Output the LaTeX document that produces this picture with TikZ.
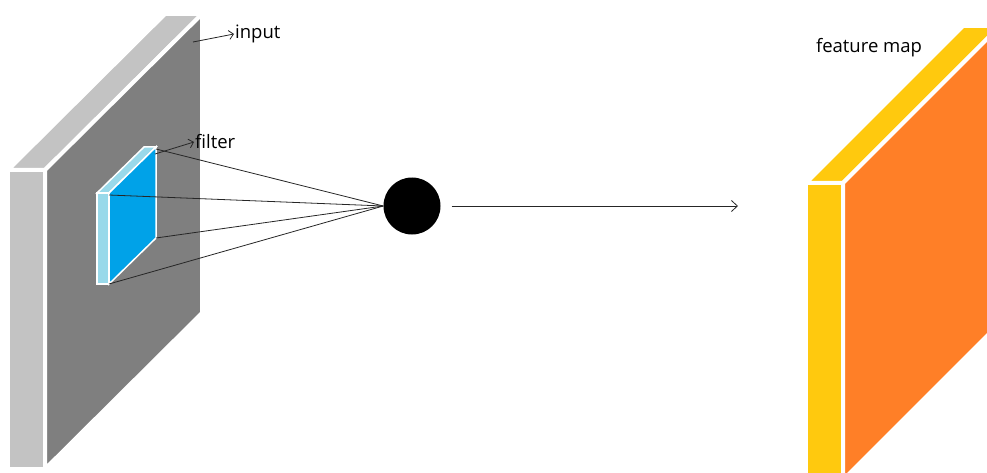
\documentclass[tikz,border=0pt]{standalone}
\usepackage{fontspec}
\setmainfont{Open Sans}
\usetikzlibrary{arrows.meta}
\definecolor{inGray}{RGB}{127,127,127}
\definecolor{inLight}{RGB}{195,195,195}
\definecolor{fltBlue}{RGB}{0,162,232}
\definecolor{fltLight}{RGB}{153,217,234}
\definecolor{mapYellow}{RGB}{255,201,14}
\definecolor{mapOrange}{RGB}{255,127,39}

\begin{document}
\begin{tikzpicture}[x=1pt,y=-1pt,>={Straight Barb[length=6pt,width=11pt]},
  face/.style={draw=white,line width=4pt,line join=miter},
  wire/.style={draw=black!85,line width=0.8pt},
  tag/.style={wire,-{Straight Barb[length=4.5pt,width=9pt]}},
  lbl/.style={font=\fontsize{18.5}{20}\selectfont,inner sep=1pt}]
\useasboundingbox (0,0) rectangle (987,473);
\begin{scope}
\clip (0,0) rectangle (987,473);
% input volume: front x 8..45, y 170..469, depth (157,-156)
\filldraw[face,fill=inLight] (8,170) rectangle (45,469);
\filldraw[face,fill=inLight] (8,170)--(45,170)--(202,14)--(165,14)--cycle;
\filldraw[face,fill=inGray] (45,170)--(202,14)--(202,313)--(45,469)--cycle;
% feature map: same box, shifted right
\filldraw[face,fill=mapYellow] (806,183) rectangle (843,480);
\filldraw[face,fill=mapYellow] (806,183)--(843,183)--(1000,26)--(963,26)--cycle;
\filldraw[face,fill=mapOrange] (843,183)--(1000,26)--(1000,323)--(843,480)--cycle;
\end{scope}
% filter on the input, depth (47,-46)
\filldraw[draw=white,line width=1.5pt,fill=fltLight] (97,193) rectangle (109,284);
\filldraw[draw=white,line width=1.5pt,fill=fltLight] (97,193)--(109,193)--(156,147)--(144,147)--cycle;
\filldraw[draw=white,line width=1.5pt,fill=fltBlue] (109,193)--(156,147)--(156,238)--(109,284)--cycle;
\coordinate (f1) at (156,149);
\coordinate (f2) at (109,195);
\coordinate (f3) at (156,238);
\coordinate (f4) at (109,284);
\node[circle,fill=black,minimum size=57pt,inner sep=0pt] (neuron) at (412,206) {};
\foreach \c in {f1,f2,f3,f4} \draw[wire] (\c) -- (neuron.west);
\coordinate (out) at (738,206);
\draw[wire,->,shorten <=11pt] (neuron.east) -- (out);
% labels
\node[lbl,anchor=west] (inlbl) at (234,34) {input};
\coordinate (inpt) at (193,42);
\draw[tag] (inpt) -- (inlbl.west);
\node[lbl,anchor=west] (fltlbl) at (194,142) {filter};
\coordinate (fltpt) at (155,154);
\draw[tag] (fltpt) -- (fltlbl.west);
\node[lbl] (maplbl) at (869,48) {feature map};
\end{tikzpicture}
\end{document}
